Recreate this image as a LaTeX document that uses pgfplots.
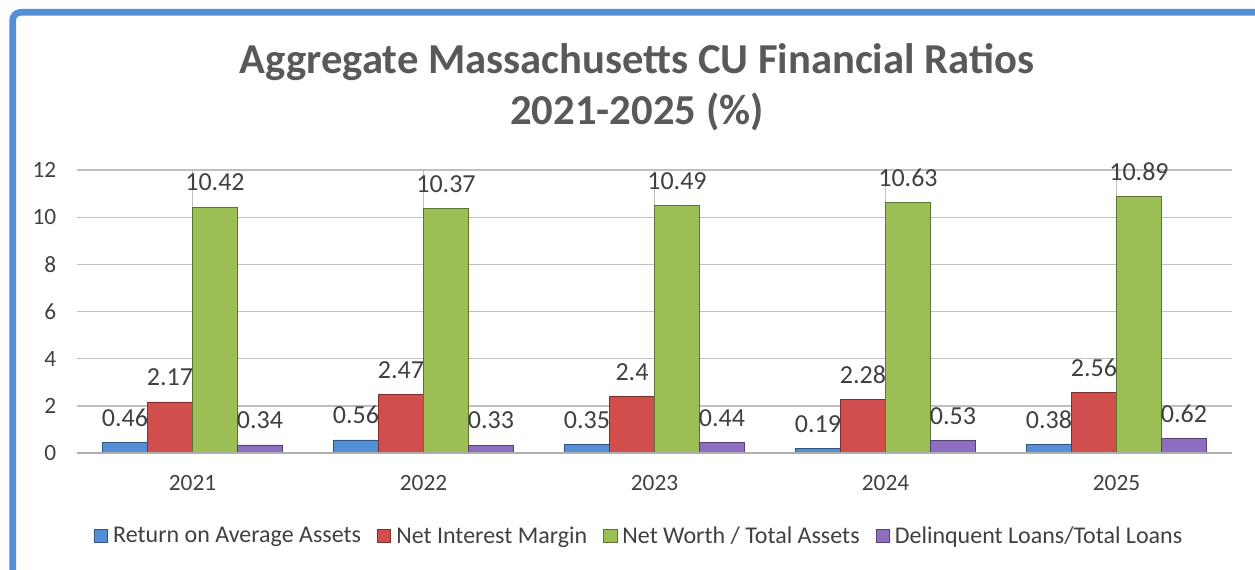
\documentclass[border=0pt]{standalone}
\usepackage{pgfplots}
\pgfplotsset{compat=1.18}
\usepackage{fontspec}
\setmainfont{Carlito}
\definecolor{cblue}{RGB}{84,142,214}
\definecolor{cred}{RGB}{208,78,75}
\definecolor{cgreen}{RGB}{155,191,85}
\definecolor{cpurple}{RGB}{142,110,192}
\definecolor{txt}{RGB}{64,64,64}
\definecolor{ttl}{RGB}{89,89,89}
\definecolor{grid}{RGB}{217,217,217}
\definecolor{frame}{RGB}{85,142,213}
\begin{document}
\begin{tikzpicture}[x=1pt,y=1pt]
\useasboundingbox (0,0) rectangle (941.25,426.75);
\draw[frame, line width=5pt, rounded corners=6pt] (9.5,-40) rectangle (990,417.5);
\node[font=\fontsize{32}{38}\selectfont\bfseries, text=ttl] at (477.75,380) {Aggregate Massachusetts CU Financial Ratios};
\node[font=\fontsize{32}{38}\selectfont\bfseries, text=ttl] at (477.75,342.5) {2021-2025 (\%)};
\begin{axis}[
  at={(57.75pt,87pt)}, anchor=south west,
  scale only axis, width=866.25pt, height=212.25pt,
  ybar=0pt, bar width=33.75pt,
  xmin=0.5, xmax=5.5, ymin=0, ymax=12,
  xtick={1,2,3,4,5}, xticklabels={2021,2022,2023,2024,2025},
  ytick={0,2,4,6,8,10,12},
  axis line style={draw=none},
  major tick length=0pt,
  ymajorgrids, grid style={grid, line width=1pt},
  tick label style={font=\fontsize{17.5}{20}\selectfont, text=txt},
  /pgf/number format/assume math mode=true,
  yticklabel style={xshift=-12pt},
  xticklabel style={yshift=-13pt},
  nodes near coords={\pgfmathprintnumber[fixed,precision=2]{\pgfplotspointmeta}},
  every node near coord/.append style={font=\fontsize{19.5}{22}\selectfont, text=txt, anchor=center, yshift=18.5pt},
  legend columns=4,
  legend style={at={(0.487,-0.293)}, anchor=center, draw=none, font=\fontsize{18}{21}\selectfont, text=txt,
     /tikz/every odd column/.append style={column sep=2pt},
     /tikz/every even column/.append style={column sep=10pt}},
  legend image code/.code={\draw[#1] (0pt,-5pt) rectangle (10pt,5pt);},
]
\addplot[fill=cblue, draw=cblue!60!black] coordinates {(1,0.46) (2,0.56) (3,0.35) (4,0.19) (5,0.38)};
\addplot[fill=cred, draw=cred!60!black] coordinates {(1,2.17) (2,2.47) (3,2.4) (4,2.28) (5,2.56)};
\addplot[fill=cgreen, draw=cgreen!60!black] coordinates {(1,10.42) (2,10.37) (3,10.49) (4,10.63) (5,10.89)};
\addplot[fill=cpurple, draw=cpurple!60!black] coordinates {(1,0.34) (2,0.33) (3,0.44) (4,0.53) (5,0.62)};
\draw[grid!80!black, line width=1pt] (axis cs:0.5,0) -- (axis cs:5.5,0);
\legend{Return on Average Assets, Net Interest Margin, Net Worth / Total Assets, Delinquent Loans/Total Loans}
\end{axis}
\end{tikzpicture}
\end{document}
